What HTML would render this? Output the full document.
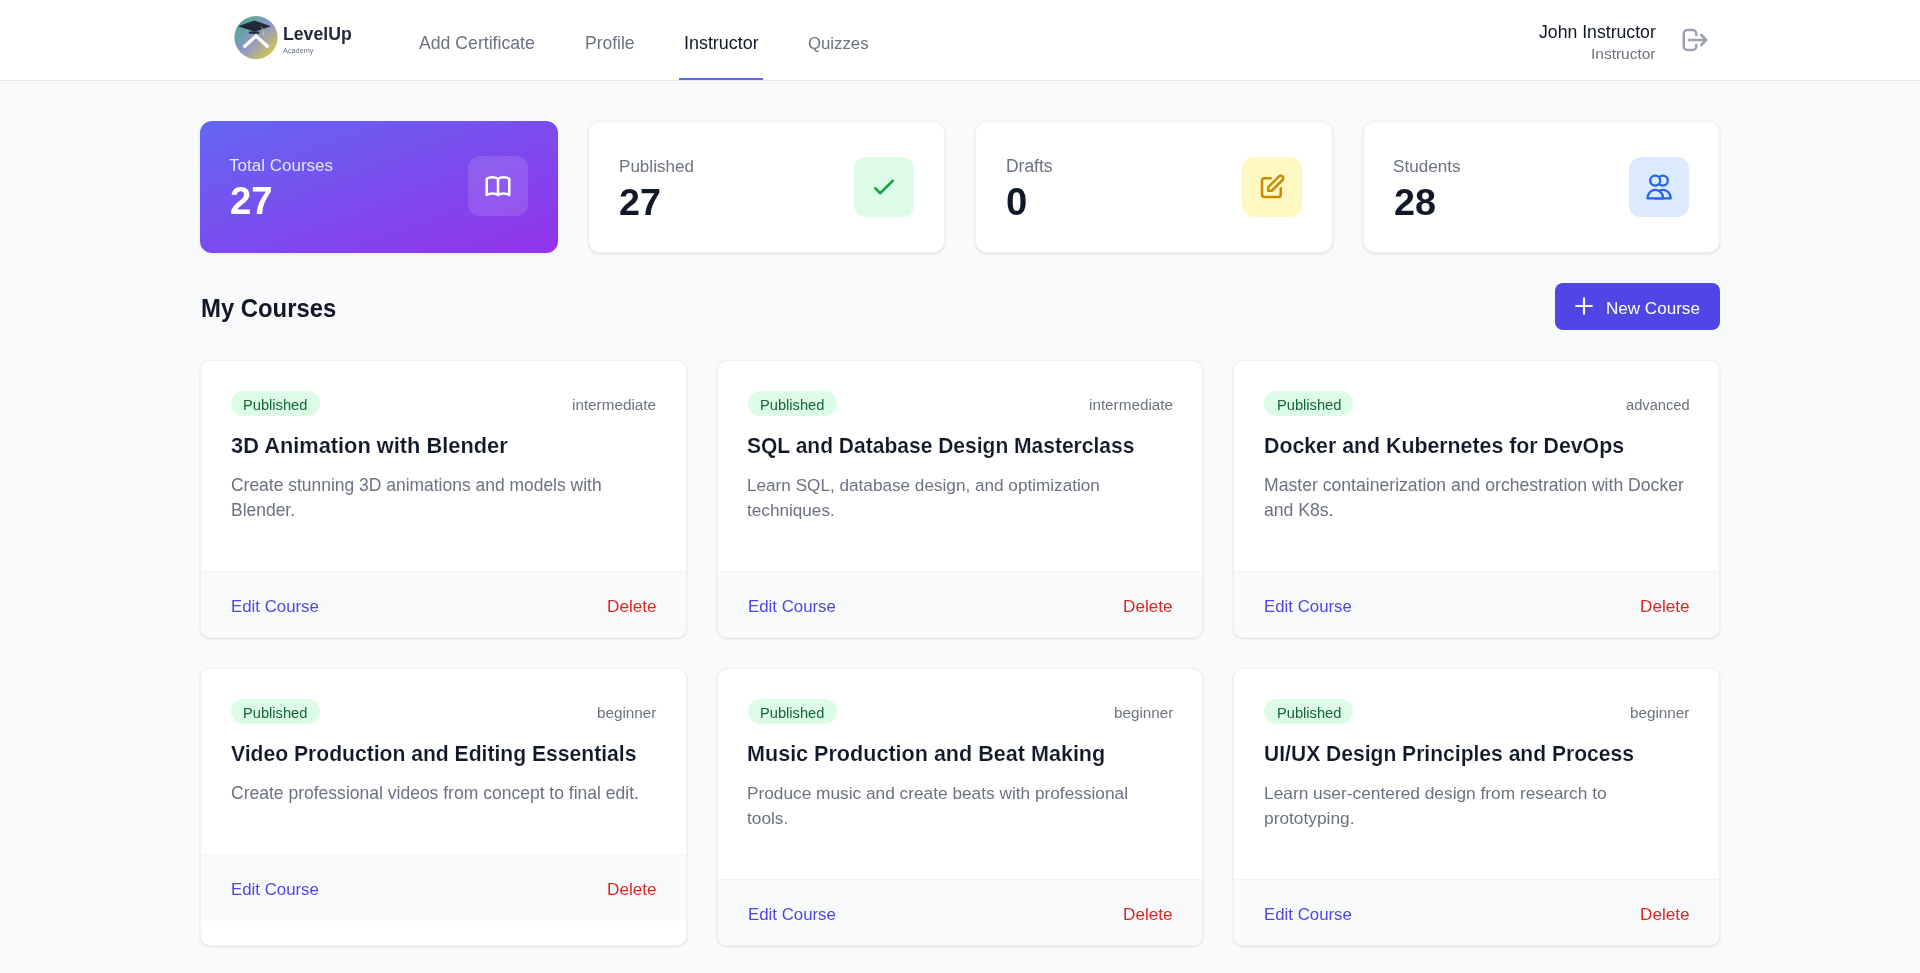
<!DOCTYPE html>
<html><head><meta charset="utf-8"><title>LevelUp Academy - Instructor</title>
<style>
html,body{margin:0;padding:0;}
body{width:1920px;height:973px;overflow:hidden;background:#f9fafb;position:relative;font-family:"Liberation Sans",sans-serif;}
.t{position:absolute;white-space:nowrap;will-change:transform;}
#hdr{position:absolute;left:0;top:0;width:1920px;height:80px;background:#fff;border-bottom:1px solid #e5e7eb;}
.sc{position:absolute;box-sizing:border-box;background:#fff;border:1px solid #f0f1f3;border-radius:12px;box-shadow:0 1px 3px rgba(0,0,0,0.08),0 1px 2px rgba(0,0,0,0.04);}
.sc.grad{border:none;background:linear-gradient(to bottom right,#6366f1 0%,#9333ea 100%);box-shadow:0 1px 3px rgba(0,0,0,0.1);}
.ib{position:absolute;width:60px;height:60px;border-radius:12px;}
.cc{position:absolute;box-sizing:border-box;background:#fff;border:1px solid #f0f1f3;border-radius:10px;overflow:hidden;box-shadow:0 1px 3px rgba(0,0,0,0.08),0 1px 2px rgba(0,0,0,0.04);}
.ft{position:absolute;left:0;right:0;background:#f9fafb;border-top:1px solid #f3f4f6;}
.bd{position:absolute;width:89px;height:25px;border-radius:13px;background:#dcfce7;}
</style></head><body>
<div id="hdr"></div>
<svg style="position:absolute;left:233px;top:15px" width="46" height="46" viewBox="0 0 46 46">
<defs><linearGradient id="lg" x1="0" y1="0" x2="1" y2="1">
<stop offset="0" stop-color="#3fae7f"/><stop offset="0.5" stop-color="#8e96c9"/><stop offset="1" stop-color="#ecd62a"/></linearGradient></defs>
<circle cx="23" cy="22.6" r="21.6" fill="url(#lg)"/>
<path d="M5 11.2 L21.3 5.6 L38 11.2 L21.8 16.8 Z" fill="#1f2a3a"/>
<rect x="15.8" y="16.6" width="10.6" height="2.1" rx="1" fill="#1f2a3a"/>
<path d="M28.1 12.1 Q30.4 13.4 30.6 18.8" stroke="#e8c62a" stroke-width="1" fill="none"/>
<circle cx="30.6" cy="19.3" r="1.1" fill="#e8c62a"/>
<path d="M10.6 32.2 L23 21 L35.4 32.2" stroke="#fff" stroke-width="3.3" fill="none" stroke-linecap="butt"/>
</svg>
<div class="t" style="left:282.90px;top:22.50px;font-size:17.67px;line-height:23px;font-weight:700;color:#1f2937;">LevelUp</div>
<div class="t" style="left:283.10px;top:45.50px;font-size:7.32px;line-height:10px;color:#6b7280;">Academy</div>
<div class="t" style="left:419.40px;top:31.50px;font-size:17.67px;line-height:23px;color:#6b7280;">Add Certificate</div>
<div class="t" style="left:584.60px;top:32.00px;font-size:17.47px;line-height:22px;color:#6b7280;">Profile</div>
<div class="t" style="left:684.00px;top:31.50px;font-size:17.92px;line-height:23px;color:#111827;">Instructor</div>
<div class="t" style="left:807.90px;top:33.00px;font-size:16.77px;line-height:21px;color:#6b7280;">Quizzes</div>
<div style="position:absolute;left:679px;top:78px;width:84px;height:2px;background:#6366f1"></div>
<div class="t" style="left:1539.15px;top:20.50px;font-size:17.67px;line-height:23px;color:#111827;">John Instructor</div>
<div class="t" style="left:1591.20px;top:43.50px;font-size:15.47px;line-height:20px;color:#6b7280;">Instructor</div>
<svg style="position:absolute;left:1680px;top:25px" width="30" height="30" viewBox="0 0 24 24" fill="none" stroke="#9ca3af" stroke-width="2" stroke-linecap="round" stroke-linejoin="round"><path d="M17 16l4-4m0 0l-4-4m4 4H7m6 4v1a3 3 0 01-3 3H6a3 3 0 01-3-3V7a3 3 0 013-3h4a3 3 0 013 3v1"/></svg>
<div class="sc grad" style="left:200px;top:121px;width:357.5px;height:132px"></div>
<div class="sc" style="left:587.5px;top:121px;width:357.5px;height:132px"></div>
<div class="sc" style="left:975.0px;top:121px;width:357.5px;height:132px"></div>
<div class="sc" style="left:1362.5px;top:121px;width:357.5px;height:132px"></div>
<div class="t" style="left:229.20px;top:154.50px;font-size:17.02px;line-height:22px;color:#e0e7ff;">Total Courses</div>
<div class="t" style="left:230.00px;top:176.50px;font-size:38.37px;line-height:48px;font-weight:700;color:#ffffff;">27</div>
<div class="t" style="left:618.90px;top:155.50px;font-size:17.07px;line-height:22px;color:#6b7280;">Published</div>
<div class="t" style="left:619.10px;top:178.00px;font-size:37.62px;line-height:48px;font-weight:700;color:#111827;">27</div>
<div class="t" style="left:1006.25px;top:155.00px;font-size:17.47px;line-height:22px;color:#6b7280;">Drafts</div>
<div class="t" style="left:1006.25px;top:177.50px;font-size:38.27px;line-height:48px;font-weight:700;color:#111827;">0</div>
<div class="t" style="left:1393.25px;top:155.50px;font-size:17.12px;line-height:22px;color:#6b7280;">Students</div>
<div class="t" style="left:1394.10px;top:178.00px;font-size:37.77px;line-height:48px;font-weight:700;color:#111827;">28</div>
<div class="ib" style="left:468px;top:156px;background:rgba(255,255,255,0.12)"></div>
<svg style="position:absolute;left:483px;top:171px" width="30" height="30" viewBox="0 0 24 24" fill="none" stroke="#fff" stroke-width="2" stroke-linecap="round" stroke-linejoin="round"><path d="M12 6.253v13m0-13C10.832 5.477 9.246 5 7.5 5S4.168 5.477 3 6.253v13C4.168 18.477 5.754 18 7.5 18s3.332.477 4.5 1.253m0-13C13.168 5.477 14.754 5 16.5 5c1.747 0 3.332.477 4.5 1.253v13C19.832 18.477 18.247 18 16.5 18c-1.746 0-3.332.477-4.5 1.253"/></svg>
<div class="ib" style="left:854px;top:157px;background:#dcfce7"></div>
<div class="ib" style="left:1242px;top:157px;background:#fef9c3"></div>
<div class="ib" style="left:1629px;top:157px;background:#dbeafe"></div>
<svg style="position:absolute;left:869px;top:172px" width="30" height="30" viewBox="0 0 24 24" fill="none" stroke="#16a34a" stroke-width="2" stroke-linecap="round" stroke-linejoin="round"><path d="M5 13l4 4L19 7"/></svg>
<svg style="position:absolute;left:1257px;top:172px" width="30" height="30" viewBox="0 0 24 24" fill="none" stroke="#ca8a04" stroke-width="2" stroke-linecap="round" stroke-linejoin="round"><path d="M11 5H6a2 2 0 00-2 2v11a2 2 0 002 2h11a2 2 0 002-2v-5m-1.414-9.414a2 2 0 112.828 2.828L11.828 15H9v-2.828l8.586-8.586z"/></svg>
<svg style="position:absolute;left:1629px;top:157px" width="60" height="60" viewBox="0 0 60 60" fill="none" stroke="#2563eb" stroke-width="2.3" stroke-linejoin="round">
<circle cx="33.8" cy="23.6" r="5"/>
<path d="M26.1 41.4 A7.8 8.6 0 0 1 41.7 41.4 Z"/>
<path d="M18.5 41.4 A7.8 8.6 0 0 1 34.1 41.4 Z" fill="#dbeafe"/>
<circle cx="26.2" cy="23.6" r="5" fill="#dbeafe"/>
</svg>
<div class="t" style="left:200.80px;top:293.50px;font-size:23.87px;line-height:30px;font-weight:700;color:#111827;transform:scaleY(1.06);transform-origin:0 23.5px;">My Courses</div>
<div style="position:absolute;left:1555px;top:283px;width:165px;height:47px;border-radius:8px;background:#4f46e5"></div>
<svg style="position:absolute;left:1571.5px;top:294.4px" width="24" height="24" viewBox="0 0 24 24" fill="none" stroke="#fff" stroke-width="2.1" stroke-linecap="round"><path d="M12 4.2v15.6M4.2 12h15.6"/></svg>
<div class="t" style="left:1605.70px;top:297.50px;font-size:17.07px;line-height:22px;color:#ffffff;">New Course</div>
<div class="cc" style="left:200.00px;top:360px;width:486.67px;height:278px">
<div class="ft" style="top:210px;height:66px"></div></div>
<div class="bd" style="left:231.00px;top:391.00px"></div>
<div class="t" style="left:243.40px;top:395.50px;font-size:14.67px;line-height:19px;color:#166534;">Published</div>
<div class="t" style="left:572.40px;top:394.50px;font-size:15.27px;line-height:20px;color:#6b7280;">intermediate</div>
<div class="t" style="left:230.80px;top:431.50px;font-size:21.82px;line-height:28px;font-weight:700;color:#111827;-webkit-text-stroke:0.15px #fff;transform:scaleY(1.05);transform-origin:0 21.5px;">3D Animation with Blender</div>
<div class="t" style="left:230.80px;top:474.00px;font-size:17.47px;line-height:22px;color:#6b7280;">Create stunning 3D animations and models with</div>
<div class="t" style="left:230.80px;top:499.00px;font-size:17.47px;line-height:22px;color:#6b7280;">Blender.</div>
<div class="t" style="left:231.10px;top:595.50px;font-size:16.82px;line-height:22px;color:#4f46e5;">Edit Course</div>
<div class="t" style="left:606.50px;top:595.00px;font-size:17.17px;line-height:22px;color:#dc2626;">Delete</div>
<div class="cc" style="left:716.67px;top:360px;width:486.67px;height:278px">
<div class="ft" style="top:210px;height:66px"></div></div>
<div class="bd" style="left:747.67px;top:391.00px"></div>
<div class="t" style="left:760.07px;top:395.50px;font-size:14.67px;line-height:19px;color:#166534;">Published</div>
<div class="t" style="left:1089.07px;top:394.50px;font-size:15.27px;line-height:20px;color:#6b7280;">intermediate</div>
<div class="t" style="left:747.47px;top:432.00px;font-size:21.02px;line-height:27px;font-weight:700;color:#111827;-webkit-text-stroke:0.15px #fff;transform:scaleY(1.05);transform-origin:0 21.0px;">SQL and Database Design Masterclass</div>
<div class="t" style="left:747.47px;top:474.00px;font-size:17.17px;line-height:22px;color:#6b7280;">Learn SQL, database design, and optimization</div>
<div class="t" style="left:747.47px;top:499.00px;font-size:17.17px;line-height:22px;color:#6b7280;">techniques.</div>
<div class="t" style="left:747.77px;top:595.50px;font-size:16.82px;line-height:22px;color:#4f46e5;">Edit Course</div>
<div class="t" style="left:1123.17px;top:595.00px;font-size:17.17px;line-height:22px;color:#dc2626;">Delete</div>
<div class="cc" style="left:1233.33px;top:360px;width:486.67px;height:278px">
<div class="ft" style="top:210px;height:66px"></div></div>
<div class="bd" style="left:1264.33px;top:391.00px"></div>
<div class="t" style="left:1276.73px;top:395.50px;font-size:14.67px;line-height:19px;color:#166534;">Published</div>
<div class="t" style="left:1626.08px;top:395.50px;font-size:14.67px;line-height:19px;color:#6b7280;">advanced</div>
<div class="t" style="left:1264.13px;top:432.50px;font-size:21.32px;line-height:27px;font-weight:700;color:#111827;-webkit-text-stroke:0.15px #fff;transform:scaleY(1.05);transform-origin:0 20.5px;">Docker and Kubernetes for DevOps</div>
<div class="t" style="left:1264.13px;top:473.50px;font-size:17.62px;line-height:23px;color:#6b7280;">Master containerization and orchestration with Docker</div>
<div class="t" style="left:1264.13px;top:498.50px;font-size:17.62px;line-height:23px;color:#6b7280;">and K8s.</div>
<div class="t" style="left:1264.43px;top:595.50px;font-size:16.82px;line-height:22px;color:#4f46e5;">Edit Course</div>
<div class="t" style="left:1639.83px;top:595.00px;font-size:17.17px;line-height:22px;color:#dc2626;">Delete</div>
<div class="cc" style="left:200.00px;top:668px;width:486.67px;height:278px">
<div class="ft" style="top:185px;height:66px"></div></div>
<div class="bd" style="left:231.00px;top:699.00px"></div>
<div class="t" style="left:243.40px;top:703.50px;font-size:14.67px;line-height:19px;color:#166534;">Published</div>
<div class="t" style="left:596.95px;top:702.50px;font-size:15.27px;line-height:20px;color:#6b7280;">beginner</div>
<div class="t" style="left:230.80px;top:740.00px;font-size:21.12px;line-height:27px;font-weight:700;color:#111827;-webkit-text-stroke:0.15px #fff;transform:scaleY(1.05);transform-origin:0 21.0px;">Video Production and Editing Essentials</div>
<div class="t" style="left:230.80px;top:782.00px;font-size:17.52px;line-height:22px;color:#6b7280;">Create professional videos from concept to final edit.</div>
<div class="t" style="left:231.10px;top:878.50px;font-size:16.82px;line-height:22px;color:#4f46e5;">Edit Course</div>
<div class="t" style="left:606.50px;top:878.00px;font-size:17.17px;line-height:22px;color:#dc2626;">Delete</div>
<div class="cc" style="left:716.67px;top:668px;width:486.67px;height:278px">
<div class="ft" style="top:210px;height:66px"></div></div>
<div class="bd" style="left:747.67px;top:699.00px"></div>
<div class="t" style="left:760.07px;top:703.50px;font-size:14.67px;line-height:19px;color:#166534;">Published</div>
<div class="t" style="left:1113.62px;top:702.50px;font-size:15.27px;line-height:20px;color:#6b7280;">beginner</div>
<div class="t" style="left:747.47px;top:740.00px;font-size:21.57px;line-height:27px;font-weight:700;color:#111827;-webkit-text-stroke:0.15px #fff;transform:scaleY(1.05);transform-origin:0 21.0px;">Music Production and Beat Making</div>
<div class="t" style="left:747.47px;top:782.00px;font-size:17.27px;line-height:22px;color:#6b7280;">Produce music and create beats with professional</div>
<div class="t" style="left:747.47px;top:807.00px;font-size:17.27px;line-height:22px;color:#6b7280;">tools.</div>
<div class="t" style="left:747.77px;top:903.50px;font-size:16.82px;line-height:22px;color:#4f46e5;">Edit Course</div>
<div class="t" style="left:1123.17px;top:903.00px;font-size:17.17px;line-height:22px;color:#dc2626;">Delete</div>
<div class="cc" style="left:1233.33px;top:668px;width:486.67px;height:278px">
<div class="ft" style="top:210px;height:66px"></div></div>
<div class="bd" style="left:1264.33px;top:699.00px"></div>
<div class="t" style="left:1276.73px;top:703.50px;font-size:14.67px;line-height:19px;color:#166534;">Published</div>
<div class="t" style="left:1630.28px;top:702.50px;font-size:15.27px;line-height:20px;color:#6b7280;">beginner</div>
<div class="t" style="left:1264.13px;top:740.00px;font-size:21.07px;line-height:27px;font-weight:700;color:#111827;-webkit-text-stroke:0.15px #fff;transform:scaleY(1.05);transform-origin:0 21.0px;">UI/UX Design Principles and Process</div>
<div class="t" style="left:1264.13px;top:782.00px;font-size:17.32px;line-height:22px;color:#6b7280;">Learn user-centered design from research to</div>
<div class="t" style="left:1264.13px;top:807.00px;font-size:17.32px;line-height:22px;color:#6b7280;">prototyping.</div>
<div class="t" style="left:1264.43px;top:903.50px;font-size:16.82px;line-height:22px;color:#4f46e5;">Edit Course</div>
<div class="t" style="left:1639.83px;top:903.00px;font-size:17.17px;line-height:22px;color:#dc2626;">Delete</div>
</body></html>
